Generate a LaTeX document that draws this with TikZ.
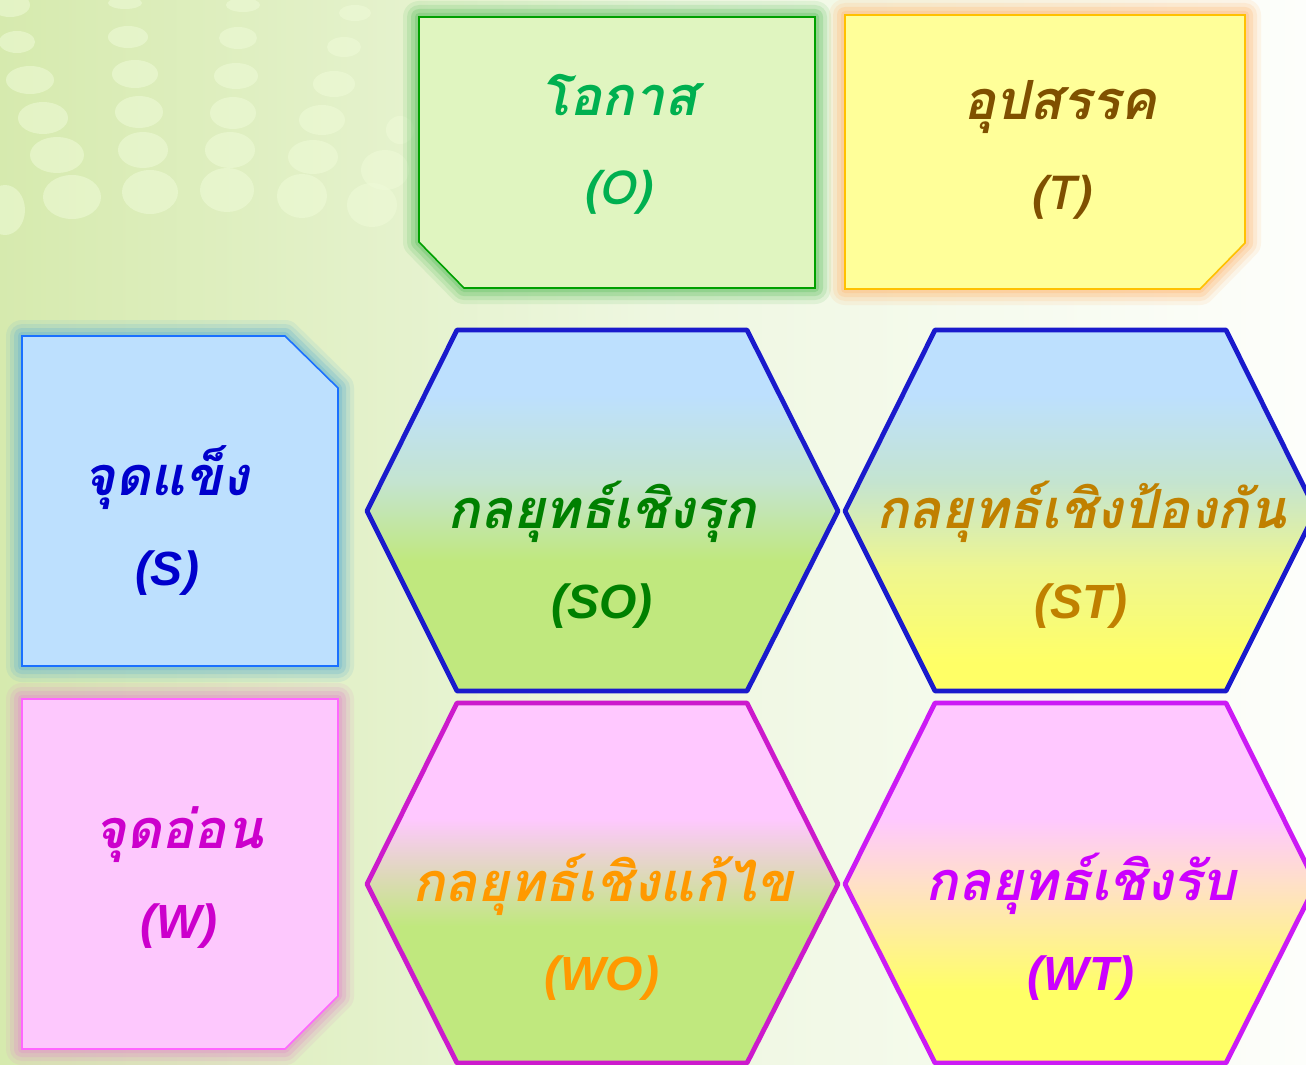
\documentclass[tikz,border=0pt]{standalone}
\usepackage{fontspec}
\newfontfamily\thaifont[Script=Thai]{Loma}
\newfontfamily\latfont{Liberation Sans}
\definecolor{bgL}{HTML}{D6EAAE}
\definecolor{bgM}{HTML}{EEF7E0}
\definecolor{bgR}{HTML}{FDFEFB}
\definecolor{dotc}{HTML}{EFFBD8}
\definecolor{hblue}{HTML}{BDE0FE}
\definecolor{hgreen}{HTML}{C0E87E}
\definecolor{hyellow}{HTML}{FFFF66}
\definecolor{hpink}{HTML}{FFC8FF}
\definecolor{hmidA}{HTML}{C4E4D0}
\definecolor{hmidB}{HTML}{EEF690}
\definecolor{hmidC}{HTML}{DDD9B8}
\definecolor{hpeach}{HTML}{FFE0C8}
\definecolor{oFill}{HTML}{E0F5C0}
\definecolor{oLine}{HTML}{00A000}
\definecolor{oGlow}{HTML}{6CC46C}
\definecolor{tFill}{HTML}{FFFF99}
\definecolor{tLine}{HTML}{FFC000}
\definecolor{tGlow}{HTML}{FFC080}
\definecolor{sFill}{HTML}{BDE0FE}
\definecolor{sLine}{HTML}{1A70FF}
\definecolor{sGlow}{HTML}{70B8D0}
\definecolor{wFill}{HTML}{FDC8FD}
\definecolor{wLine}{HTML}{FF66FF}
\definecolor{wGlow}{HTML}{E098C8}
\definecolor{hexBlue}{HTML}{1A1ACC}
\definecolor{hexMag}{HTML}{CC1ACC}
\definecolor{hexVio}{HTML}{CC1AF5}
\definecolor{txO}{HTML}{00B050}
\definecolor{txT}{HTML}{7F5000}
\definecolor{txS}{HTML}{0000CC}
\definecolor{txW}{HTML}{CC00CC}
\definecolor{txSO}{HTML}{008000}
\definecolor{txST}{HTML}{C08000}
\definecolor{txWO}{HTML}{FF9900}
\definecolor{txWT}{HTML}{CC00FF}
\pgfdeclarehorizontalshading{bgshade}{100bp}{color(0bp)=(bgL); color(25bp)=(bgL); color(50bp)=(bgM); color(75bp)=(bgR); color(100bp)=(bgR)}
\pgfdeclareverticalshading{soshade}{100bp}{color(0bp)=(hgreen); color(43bp)=(hgreen); color(54bp)=(hmidA); color(66bp)=(hblue); color(100bp)=(hblue)}
\pgfdeclareverticalshading{stshade}{100bp}{color(0bp)=(hyellow); color(29bp)=(hyellow); color(42bp)=(hmidB); color(54bp)=(hmidA); color(66bp)=(hblue); color(100bp)=(hblue)}
\pgfdeclareverticalshading{woshade}{100bp}{color(0bp)=(hgreen); color(44bp)=(hgreen); color(51bp)=(hmidC); color(59bp)=(hpink); color(100bp)=(hpink)}
\pgfdeclareverticalshading{wtshade}{100bp}{color(0bp)=(hyellow); color(35bp)=(hyellow); color(50bp)=(hpeach); color(59bp)=(hpink); color(100bp)=(hpink)}
\newcommand\myglow[2]{%
  \foreach \w/\o in {32/0.14,24/0.2,16/0.3,8/0.4}{\draw[#1,line width=\w pt,opacity=\o,line join=round] #2;}}
\tikzset{
  thaitxt/.style={anchor=base,font=\thaifont\bfseries\itshape\fontsize{54}{64}\selectfont},
  thailat/.style={anchor=base,font=\thaifont\bfseries\itshape\fontsize{47}{56}\selectfont},
  lattxt/.style={anchor=base,font=\latfont\bfseries\itshape\fontsize{48}{58}\selectfont},
  hexline/.style={line width=4.8pt,line join=round},
  boxline/.style={line width=1.6pt,line join=miter}
}
\begin{document}
\begin{tikzpicture}[x=1pt,y=-1pt]
\useasboundingbox (0,0) rectangle (1306,1065);
\clip (0,0) rectangle (1306,1065);
% background
\shade[shading=bgshade] (0,0) rectangle (1306,1065);
\foreach \cx/\cy/\rx/\ry in {
  10/5/20/12, 17/42/18/11, 30/80/24/14, 43/118/25/16, 57/155/27/18, 72/197/29/22, 5/210/20/25,
  125/3/17/6, 128/37/20/11, 135/74/23/14, 139/112/24/16, 143/150/25/18, 150/192/28/22,
  243/5/17/7, 238/38/19/11, 236/76/22/13, 233/113/23/16, 230/150/25/18, 227/190/27/22,
  355/13/16/8, 344/47/17/10, 334/84/21/13, 322/120/23/15, 313/157/25/17, 302/196/25/22,
  400/130/14/14, 385/170/24/20, 372/205/25/22}
  \fill[dotc,opacity=0.55] (\cx,\cy) ellipse [x radius=\rx, y radius=\ry];
% glows
\myglow{oGlow}{(419,17) -- (815,17) -- (815,288) -- (464,288) -- (419,242) -- cycle}
\myglow{tGlow}{(845,15) -- (1245,15) -- (1245,243) -- (1200,289) -- (845,289) -- cycle}
\myglow{sGlow}{(22,336) -- (285,336) -- (338,388) -- (338,666) -- (22,666) -- cycle}
\myglow{wGlow}{(22,699) -- (338,699) -- (338,996) -- (285,1049) -- (22,1049) -- cycle}
% boxes
\draw[boxline,draw=oLine,fill=oFill] (419,17) -- (815,17) -- (815,288) -- (464,288) -- (419,242) -- cycle;
\draw[boxline,draw=tLine,fill=tFill] (845,15) -- (1245,15) -- (1245,243) -- (1200,289) -- (845,289) -- cycle;
\draw[boxline,draw=sLine,fill=sFill] (22,336) -- (285,336) -- (338,388) -- (338,666) -- (22,666) -- cycle;
\draw[boxline,draw=wLine,fill=wFill] (22,699) -- (338,699) -- (338,996) -- (285,1049) -- (22,1049) -- cycle;
% hexagons
\shade[shading=soshade] (457,330) -- (747,330) -- (838,511) -- (747,691) -- (457,691) -- (367,511) -- cycle;
\draw[hexline,draw=hexBlue] (457,330) -- (747,330) -- (838,511) -- (747,691) -- (457,691) -- (367,511) -- cycle;
\shade[shading=stshade] (935,330) -- (1226,330) -- (1316,511) -- (1226,691) -- (935,691) -- (845,511) -- cycle;
\draw[hexline,draw=hexBlue] (935,330) -- (1226,330) -- (1316,511) -- (1226,691) -- (935,691) -- (845,511) -- cycle;
\shade[shading=woshade] (457,703) -- (747,703) -- (838,884) -- (747,1063) -- (457,1063) -- (367,884) -- cycle;
\draw[hexline,draw=hexMag] (457,703) -- (747,703) -- (838,884) -- (747,1063) -- (457,1063) -- (367,884) -- cycle;
\shade[shading=wtshade] (935,703) -- (1226,703) -- (1316,884) -- (1226,1063) -- (935,1063) -- (845,884) -- cycle;
\draw[hexline,draw=hexVio] (935,703) -- (1226,703) -- (1316,884) -- (1226,1063) -- (935,1063) -- (845,884) -- cycle;
% texts
\node[thaitxt,text=txO] (othai) at (619,115) {โอกาส};
\node[thailat,text=txO] (olat) at (617,204) {(O)};
\node[thaitxt,text=txT] (tthai) at (1060,119) {อุปสรรค};
\node[thailat,text=txT] (tlat) at (1060,209) {(T)};
\node[thaitxt,text=txS] (sthai) at (166,495) {จุดแข็ง};
\node[lattxt,text=txS] (slat) at (167,585) {(S)};
\node[thaitxt,text=txW] (wthai) at (179,848) {จุดอ่อน};
\node[lattxt,text=txW] (wlat) at (179,938) {(W)};
\node[thaitxt,text=txSO] (sothai) at (602,528) {กลยุทธ์เชิงรุก};
\node[lattxt,text=txSO] (solat) at (602,618) {(SO)};
\node[thaitxt,text=txST] (stthai) at (1081,528) {กลยุทธ์เชิงป้องกัน};
\node[lattxt,text=txST] (stlat) at (1081,618) {(ST)};
\node[thaitxt,text=txWO] (wothai) at (603,901) {กลยุทธ์เชิงแก้ไข};
\node[lattxt,text=txWO] (wolat) at (602,990) {(WO)};
\node[thaitxt,text=txWT] (wtthai) at (1081,900) {กลยุทธ์เชิงรับ};
\node[lattxt,text=txWT] (wtlat) at (1081,990) {(WT)};
\end{tikzpicture}
\end{document}
